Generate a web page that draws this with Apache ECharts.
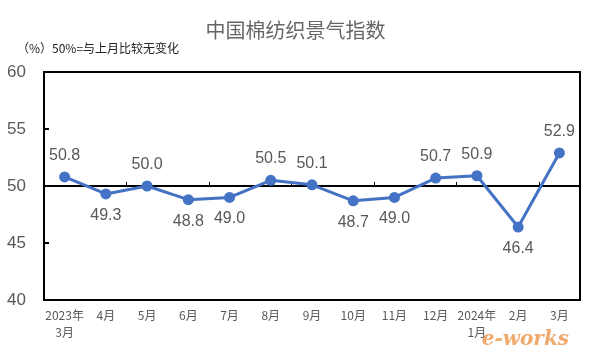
<!DOCTYPE html>
<html>
<head>
<meta charset="utf-8">
<script src="https://cdn.jsdelivr.net/npm/echarts@6/dist/echarts.min.js"></script>
<style>
  html, body { margin: 0; padding: 0; background: #fff; }
  #chart { width: 591px; height: 354px; }
</style>
</head>
<body>
<div id="chart"></div>
<script>
// Data
const months = ['2023年\n3月', '4月', '5月', '6月', '7月', '8月', '9月', '10月', '11月', '12月', '2024年\n1月', '2月', '3月'];
const indexValues = [50.8, 49.3, 50.0, 48.8, 49.0, 50.5, 50.1, 48.7, 49.0, 50.7, 50.9, 46.4, 52.9];
const yTicks = [40, 45, 50, 55, 60];

// label above or below each point, as in the original
const labelSides = ['top', 'bottom', 'top', 'bottom', 'bottom', 'top', 'top', 'bottom', 'bottom', 'top', 'top', 'bottom', 'top'];

const font = '"Noto Sans CJK SC", "Liberation Sans", sans-serif';
const gray = '#595959';

const chart = echarts.init(document.getElementById('chart'));

const options = {
  animation: false,
  title: [
    {
      text: '中国棉纺织景气指数',
      left: 'center',
      top: 15,
      textStyle: { color: '#666', fontSize: 20, fontWeight: 'normal', fontFamily: font },
    },
    {
      text: '（%）50%=与上月比较无变化',
      left: 12,
      top: 37,
      textStyle: { color: '#222', fontSize: 12, fontWeight: 'normal', fontFamily: font },
    },
  ],
  grid: [
    { left: 44, right: 11, top: 72, bottom: 54, show: true, borderColor: '#000', borderWidth: 2 },
    // helper grid: its bottom edge sits on the 50 line
    { left: 44, right: 11, top: 72, height: 114 },
  ],
  xAxis: [
    {
      type: 'category',
      data: months,
      gridIndex: 0,
      axisLine: { show: false },
      axisTick: { show: false },
      axisLabel: { color: gray, fontSize: 12, fontFamily: font, interval: 0, margin: 7, lineHeight: 17 },
    },
    {
      type: 'category',
      data: months,
      gridIndex: 1,
      position: 'bottom',
      axisLine: { lineStyle: { color: '#000', width: 2 } },
      axisTick: { show: true, inside: true, length: 4, lineStyle: { color: '#000', width: 1 } },
      axisLabel: { show: false },
    },
  ],
  yAxis: [
    {
      type: 'value',
      min: yTicks[0],
      max: yTicks[yTicks.length - 1],
      interval: 5,
      gridIndex: 0,
      axisLine: { show: true, lineStyle: { color: '#000', width: 2 } },
      axisTick: { show: true, inside: true, length: 5, lineStyle: { color: '#000', width: 2 } },
      splitLine: { show: false },
      axisLabel: { color: gray, fontSize: 17, fontFamily: '"Liberation Sans", sans-serif', margin: 18 },
    },
    { type: 'value', gridIndex: 1, show: false },
  ],
  graphic: [
    {
      type: 'text',
      right: 22,
      bottom: 4,
      style: {
        text: 'e-works',
        fill: 'rgba(235, 140, 60, 0.75)',
        font: 'italic bold 20px "DejaVu Serif", serif',
      },
    },
  ],
  series: [{
    type: 'line',
    data: indexValues.map((v, i) => ({ value: v, label: { position: labelSides[i] } })),
    xAxisIndex: 0,
    yAxisIndex: 0,
    symbol: 'circle',
    symbolSize: 11,
    itemStyle: { color: '#4472C4' },
    lineStyle: { color: '#4472C4', width: 3 },
    label: {
      show: true,
      formatter: p => p.value.toFixed(1),
      color: gray,
      fontSize: 16,
      fontFamily: '"Liberation Sans", sans-serif',
      distance: 8,
    },
    z: 5,
  }],
};

chart.setOption(options);
</script>
</body>
</html>
